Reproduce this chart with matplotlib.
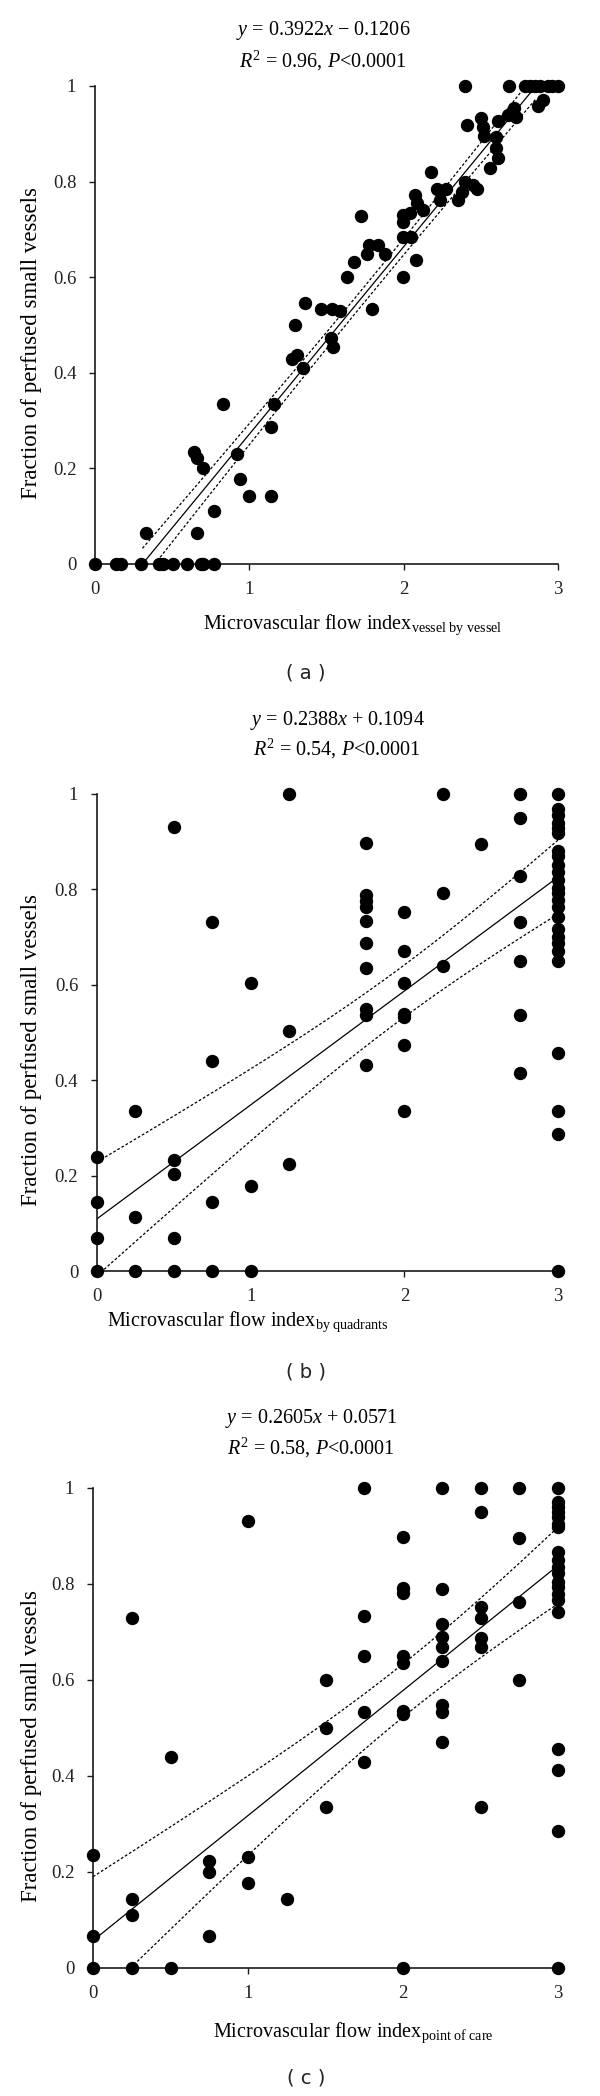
import numpy as np
import matplotlib
matplotlib.use('Agg')
import matplotlib.pyplot as plt

plt.rcParams['font.family'] = ['Liberation Serif', 'DejaVu Serif']
plt.rcParams['mathtext.fontset'] = 'custom'
plt.rcParams['mathtext.rm'] = 'Liberation Serif'
plt.rcParams['mathtext.it'] = 'Liberation Serif:italic'
plt.rcParams['mathtext.bf'] = 'Liberation Serif:bold'

# ---------------- data ----------------
# Panel (a): vessel by vessel
a_x = [0, 0.136, 0.166, 0.30, 0.33, 0.417, 0.443, 0.503, 0.598, 0.69, 0.70, 0.773,
       0.643, 0.663, 0.697, 0.663, 0.773, 0.831, 0.917, 0.939, 0.997,
       1.138, 1.138, 1.161, 1.278, 1.31, 1.295, 1.349, 1.36,
       1.462, 1.533, 1.587, 1.527, 1.54, 1.796,
       1.636, 1.68, 1.723, 1.76, 1.777, 1.831, 1.878,
       1.997, 1.997, 1.997, 1.997, 2.04, 2.05, 2.083, 2.072, 2.087, 2.126,
       2.176, 2.213, 2.234, 2.277, 2.353, 2.375, 2.396, 2.45, 2.472,
       2.40, 2.412, 2.498, 2.515, 2.521, 2.558, 2.597, 2.597, 2.612, 2.612,
       2.68, 2.677, 2.714, 2.727,
       2.785, 2.817, 2.85, 2.882, 2.936, 2.964, 3.0, 2.871, 2.9]
a_y = [0, 0, 0, 0, 0.065, 0, 0, 0, 0, 0, 0, 0,
       0.235, 0.222, 0.200, 0.065, 0.110, 0.334, 0.231, 0.177, 0.142,
       0.287, 0.142, 0.334, 0.429, 0.437, 0.501, 0.411, 0.547,
       0.534, 0.534, 0.529, 0.473, 0.455, 0.534,
       0.601, 0.631, 0.728, 0.648, 0.667, 0.667, 0.648,
       0.601, 0.685, 0.730, 0.716, 0.734, 0.685, 0.637, 0.772, 0.755, 0.741,
       0.820, 0.784, 0.762, 0.785, 0.762, 0.779, 0.800, 0.793, 0.784,
       1.0, 0.919, 0.933, 0.915, 0.896, 0.828, 0.870, 0.894, 0.926, 0.849,
       1.0, 0.940, 0.954, 0.936,
       1.0, 1.0, 1.0, 1.0, 1.0, 1.0, 1.0, 0.959, 0.970]
a_slope, a_icpt = 0.3922, -0.1206

# Panel (b): by quadrants
b_x = [0, 0, 0, 0,
       0.25, 0.25, 0.25,
       0.5, 0.5, 0.5, 0.5, 0.5,
       0.75, 0.75, 0.75, 0.75,
       1, 1, 1,
       1.25, 1.25, 1.25,
       1.75, 1.75, 1.75, 1.75, 1.75, 1.75, 1.75, 1.75, 1.75, 1.75,
       2, 2, 2, 2, 2, 2, 2,
       2.25, 2.25, 2.25,
       2.5,
       2.75, 2.75, 2.75, 2.75, 2.75, 2.75, 2.75,
       3, 3, 3, 3, 3, 3, 3, 3, 3, 3, 3, 3, 3, 3, 3, 3, 3, 3, 3, 3, 3, 3, 3, 3, 3]
b_y = [0.238, 0.145, 0.069, 0,
       0.336, 0.113, 0,
       0.931, 0.233, 0.203, 0.069, 0,
       0.731, 0.441, 0.145, 0,
       0.603, 0.178, 0,
       1.0, 0.503, 0.225,
       0.897, 0.789, 0.776, 0.764, 0.734, 0.687, 0.635, 0.549, 0.537, 0.431,
       0.753, 0.670, 0.603, 0.539, 0.532, 0.474, 0.336,
       1.0, 0.792, 0.640,
       0.896,
       1.0, 0.950, 0.829, 0.731, 0.650, 0.537, 0.415,
       1.0, 0.968, 0.957, 0.939, 0.929, 0.918, 0.880, 0.869, 0.852, 0.836, 0.820,
       0.803, 0.792, 0.778, 0.764, 0.743, 0.717, 0.700, 0.687, 0.670, 0.650,
       0.458, 0.336, 0.288, 0]
b_slope, b_icpt = 0.2388, 0.1094

# Panel (c): point of care
c_x = [0, 0, 0,
       0.25, 0.25, 0.25, 0.25,
       0.5, 0.5,
       0.75, 0.75, 0.75,
       1, 1, 1,
       1.25,
       1.5, 1.5, 1.5,
       1.75, 1.75, 1.75, 1.75, 1.75,
       2, 2, 2, 2, 2, 2, 2, 2,
       2.25, 2.25, 2.25, 2.25, 2.25, 2.25, 2.25, 2.25, 2.25,
       2.5, 2.5, 2.5, 2.5, 2.5, 2.5, 2.5,
       2.75, 2.75, 2.75, 2.75,
       3, 3, 3, 3, 3, 3, 3, 3, 3, 3, 3, 3, 3, 3, 3, 3, 3, 3, 3, 3]
c_y = [0.236, 0.067, 0,
       0.730, 0.144, 0.111, 0,
       0.439, 0,
       0.223, 0.201, 0.067,
       0.931, 0.232, 0.178,
       0.144,
       0.601, 0.501, 0.335,
       1.0, 0.733, 0.650, 0.534, 0.430,
       0.898, 0.791, 0.782, 0.650, 0.635, 0.535, 0.530, 0,
       1.0, 0.790, 0.716, 0.690, 0.669, 0.639, 0.548, 0.534, 0.471,
       1.0, 0.949, 0.752, 0.729, 0.688, 0.669, 0.335,
       1.0, 0.895, 0.762, 0.601,
       1.0, 0.971, 0.961, 0.950, 0.940, 0.926, 0.919, 0.867, 0.850, 0.836,
       0.822, 0.804, 0.794, 0.780, 0.766, 0.742, 0.456, 0.413, 0.286, 0]
c_slope, c_icpt = 0.2605, 0.0571

x_ticks = [0, 1, 2, 3]
x_ticklabels = ['0', '1', '2', '3']
y_ticks = [0, 0.2, 0.4, 0.6, 0.8, 1.0]
y_ticklabels = ['0', '0.2', '0.4', '0.6', '0.8', '1']

titles = [
    (r'$y$ = 0.3922$x$ $-$ 0.1206', r'$R^2$ = 0.96, $P$<0.0001'),
    (r'$y$ = 0.2388$x$ + 0.1094', r'$R^2$ = 0.54, $P$<0.0001'),
    (r'$y$ = 0.2605$x$ + 0.0571', r'$R^2$ = 0.58, $P$<0.0001'),
]
xlabels = [
    r'Microvascular flow index$_{\mathrm{vessel\ by\ vessel}}$',
    r'Microvascular flow index$_{\mathrm{by\ quadrants}}$',
    r'Microvascular flow index$_{\mathrm{point\ of\ care}}$',
]
ylabel = 'Fraction of perfused small vessels'
panel_tags = ['( a )', '( b )', '( c )']

# ---------------- layout (pixels) ----------------
W, H = 600, 2096
fig = plt.figure(figsize=(W / 100, H / 100), dpi=100)

def fx(px):
    return px / W

def fy(py):
    return 1 - py / H

boxes = [(95, 86, 558, 564), (97, 794, 558, 1271), (93, 1488, 558, 1968)]
title_pos = [(323, 31, 61), (337, 720, 749), (311, 1418, 1448)]
xlabel_pos = [(203, 625), (107, 1322), (213, 2033)]
tag_pos = [(306, 673), (306, 1372), (306, 2078)]
ylabel_x = 32

def band_halfwidth(x, y, slope, icpt, xs):
    x = np.asarray(x, float)
    y = np.asarray(y, float)
    n = len(x)
    resid = y - (icpt + slope * x)
    s = np.sqrt(np.sum(resid ** 2) / (n - 2))
    xm = x.mean()
    sxx = np.sum((x - xm) ** 2)
    return 1.98 * s * np.sqrt(1.0 / n + (xs - xm) ** 2 / sxx)

datasets = [(a_x, a_y, a_slope, a_icpt), (b_x, b_y, b_slope, b_icpt), (c_x, c_y, c_slope, c_icpt)]

for i, (xd, yd, m, b) in enumerate(datasets):
    l, t, r, btm = boxes[i]
    ax = fig.add_axes([fx(l), fy(btm), fx(r - l), (btm - t) / H])
    ax.set_xlim(0, 3)
    ax.set_ylim(0, 1)
    for sp in ['top', 'right']:
        ax.spines[sp].set_visible(False)
    for sp in ['left', 'bottom']:
        ax.spines[sp].set_linewidth(1.2)
        ax.spines[sp].set_color('#1a1a1a')
    ax.set_xticks(x_ticks)
    ax.set_xticklabels(x_ticklabels)
    ax.set_yticks(y_ticks)
    ax.set_yticklabels(y_ticklabels)
    ax.tick_params(direction='out', length=4.5, width=1.0, colors='#1a1a1a',
                   labelsize=13.5, labelcolor='#222222')
    ax.tick_params(axis='y', pad=9)
    ax.tick_params(axis='x', pad=8)

    # regression line & confidence band over the range where line is in [0, 1]
    x_lo = max(0.0, -b / m)
    x_hi = min(3.0, (1 - b) / m)
    xs = np.linspace(x_lo, x_hi, 200)
    yl = m * xs + b
    hw = band_halfwidth(xd, yd, m, b, xs)
    ax.plot(xs, yl, color='black', lw=0.9, zorder=2)
    ax.plot(xs, yl + hw, color='black', lw=0.9, ls=(0, (2.2, 1.6)), zorder=2)
    ax.plot(xs, yl - hw, color='black', lw=0.9, ls=(0, (2.2, 1.6)), zorder=2)

    ax.plot(xd, yd, 'o', ms=8.6, color='black', mec='black', clip_on=False, zorder=3)

    # titles
    cx, y1, y2 = title_pos[i]
    fig.text(fx(cx), fy(y1), titles[i][0], ha='center', va='center', fontsize=14.5)
    fig.text(fx(cx), fy(y2), titles[i][1], ha='center', va='center', fontsize=14.5)
    # x label
    lx, ly = xlabel_pos[i]
    fig.text(fx(lx), fy(ly), xlabels[i], ha='left', va='center', fontsize=14.5)
    # y label
    fig.text(fx(ylabel_x), fy((t + btm) / 2 + 18), ylabel, rotation=90,
             ha='center', va='center', fontsize=16.5)
    # tag
    tx, ty = tag_pos[i]
    fig.text(fx(tx), fy(ty), panel_tags[i], ha='center', va='center', fontsize=14,
             family=['DejaVu Sans'], color='#222222')

fig.savefig('out.png', dpi=100)
